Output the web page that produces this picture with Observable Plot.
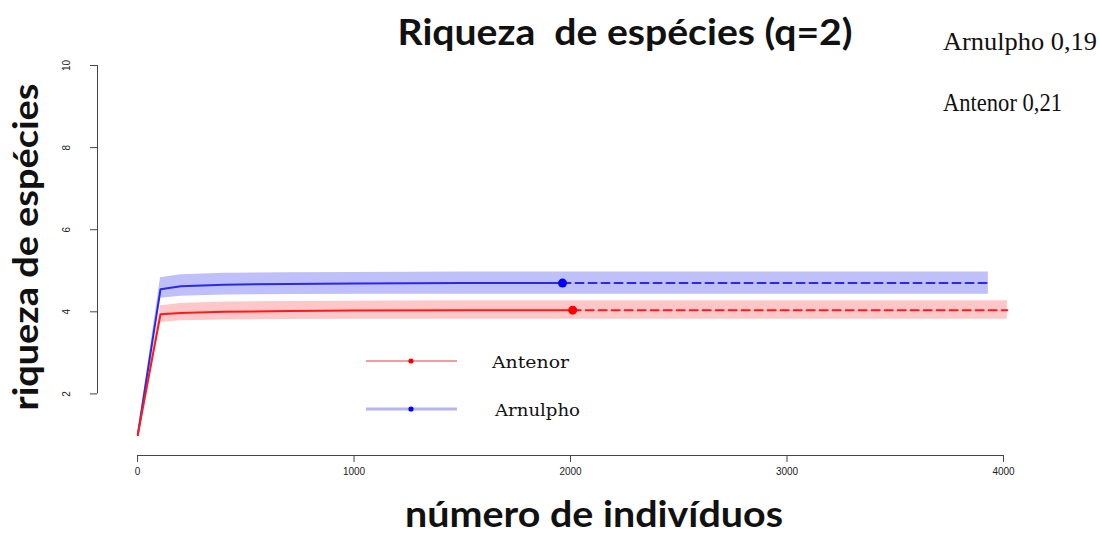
<!DOCTYPE html>
<html>
<head>
<meta charset="utf-8">
<script src="https://cdn.jsdelivr.net/npm/d3@7"></script>
<script src="https://cdn.jsdelivr.net/npm/@observablehq/plot@0.6"></script>
<style>
  html, body { margin: 0; padding: 0; background: #fff; }
  #chart { position: relative; width: 1100px; height: 534px; }
</style>
</head>
<body>
<div id="chart"></div>
<script>
// ---- Data ----
const xTicks = [0, 1000, 2000, 3000, 4000];
const yTicks = [2, 4, 6, 8, 10];

// Arnulpho (blue) – interpolated (rarefied) part
const arnInterpN  = [1, 106, 200, 400, 700, 1000, 1500, 1963];
const arnInterpQ  = [1.00, 4.55, 4.62, 4.66, 4.68, 4.69, 4.70, 4.70];
const arnInterpLo = [1.00, 4.33, 4.38, 4.41, 4.42, 4.43, 4.43, 4.43];
const arnInterpHi = [1.00, 4.83, 4.90, 4.94, 4.95, 4.96, 4.97, 4.97];
// Arnulpho – extrapolated part
const arnExtrapN  = [1963, 3930];
const arnExtrapQ  = [4.70, 4.70];
const arnExtrapLo = [4.43, 4.43];
const arnExtrapHi = [4.97, 4.97];

// Antenor (red) – interpolated part
const antInterpN  = [1, 106, 200, 400, 700, 1000, 1500, 2010];
const antInterpQ  = [1.00, 3.94, 3.97, 4.00, 4.02, 4.03, 4.04, 4.04];
const antInterpLo = [1.00, 3.74, 3.78, 3.80, 3.81, 3.82, 3.82, 3.82];
const antInterpHi = [1.00, 4.15, 4.20, 4.24, 4.25, 4.26, 4.27, 4.27];
// Antenor – extrapolated part
const antExtrapN  = [2010, 4018];
const antExtrapQ  = [4.04, 4.04];
const antExtrapLo = [3.82, 3.82];
const antExtrapHi = [4.27, 4.27];

const lineColors = {Antenor: "#ff1a1a", Arnulpho: "#2a2ae6"};
const bandColors = {Antenor: "#ffc4c4", Arnulpho: "#bfbffa"};
const sampleCoverage = [["Arnulpho", "0,19"], ["Antenor", "0,21"]];

// ---- Build rows ----
const rows = (name, part, N, Q, Lo, Hi) =>
  N.map((n, i) => ({series: name, part, n, q: Q[i], lo: Lo[i], hi: Hi[i]}));

const arnI = rows("Arnulpho", "interp", arnInterpN, arnInterpQ, arnInterpLo, arnInterpHi);
const arnE = rows("Arnulpho", "extrap", arnExtrapN, arnExtrapQ, arnExtrapLo, arnExtrapHi);
const antI = rows("Antenor", "interp", antInterpN, antInterpQ, antInterpLo, antInterpHi);
const antE = rows("Antenor", "extrap", antExtrapN, antExtrapQ, antExtrapLo, antExtrapHi);

const observed = [arnI[arnI.length - 1], antI[antI.length - 1]];

const xMin = -185, yMin = 0.5;

const plot = Plot.plot({
  width: 1100,
  height: 534,
  marginLeft: 97,
  marginRight: 97,
  marginTop: 65,
  marginBottom: 79,
  x: {domain: [xMin, 4000]},
  y: {domain: [yMin, 10]},
  style: {background: "transparent", fontFamily: "Liberation Sans, Arial, sans-serif"},
  marks: [
    // bands
    Plot.areaY([...arnI, ...arnE.slice(1)], {x: "n", y1: "lo", y2: "hi", fill: bandColors.Arnulpho, curve: "linear"}),
    Plot.areaY([...antI, ...antE.slice(1)], {x: "n", y1: "lo", y2: "hi", fill: bandColors.Antenor, curve: "linear", fillOpacity: 0.95}),
    // interpolated lines
    Plot.line(arnI, {x: "n", y: "q", stroke: lineColors.Arnulpho, strokeWidth: 2}),
    Plot.line(antI, {x: "n", y: "q", stroke: lineColors.Antenor, strokeWidth: 2}),
    // extrapolated lines
    Plot.line(arnE, {x: "n", y: "q", stroke: lineColors.Arnulpho, strokeWidth: 2, strokeDasharray: "8,5"}),
    Plot.line(antE, {x: "n", y: "q", stroke: lineColors.Antenor, strokeWidth: 2, strokeDasharray: "8,5"}),
    // observed points
    Plot.dot(observed, {x: "n", y: "q", r: 4.5, fill: d => d.series === "Arnulpho" ? "#0000ff" : "#ff0000", stroke: "none"}),
    // axes
    Plot.ruleY([yMin], {x1: 0, x2: 4000, stroke: "#444", strokeWidth: 1}),
    Plot.axisX({ticks: xTicks, tickSize: 7, tickPadding: 5, tickFormat: d3.format("d"), fontSize: 10, label: null, stroke: "#444", fill: "#222"}),
    Plot.ruleX([xMin], {y1: 2, y2: 10, stroke: "#444", strokeWidth: 1}),
    Plot.axisY({ticks: yTicks, tickSize: 7, tickPadding: 21, tickRotate: -90, textAnchor: "middle", fontSize: 10, label: null, stroke: "#444", fill: "#222"})
  ]
});

document.getElementById("chart").appendChild(plot);

// ---- Titles, annotations, legend ----
const svg = d3.select(plot);
const titleFont = "Lato, 'Open Sans', sans-serif";

svg.append("text")
  .attr("x", 625).attr("y", 45)
  .attr("text-anchor", "middle")
  .attr("font-family", titleFont).attr("font-weight", "bold").attr("font-size", 37)
  .attr("textLength", 455).attr("lengthAdjust", "spacingAndGlyphs")
  .attr("fill", "#111")
  .text("Riqueza  de espécies (q=2)");

svg.append("text")
  .attr("x", 594).attr("y", 527)
  .attr("text-anchor", "middle")
  .attr("font-family", titleFont).attr("font-weight", "bold").attr("font-size", 36)
  .attr("textLength", 378).attr("lengthAdjust", "spacingAndGlyphs")
  .attr("fill", "#111")
  .text("número de indivíduos");

svg.append("text")
  .attr("transform", "translate(38,247) rotate(-90)")
  .attr("text-anchor", "middle")
  .attr("font-family", titleFont).attr("font-weight", "bold").attr("font-size", 35)
  .attr("textLength", 327).attr("lengthAdjust", "spacingAndGlyphs")
  .attr("fill", "#111")
  .text("riqueza de espécies");

// sample coverage annotations (top right)
const annotWidths = [154, 119];
sampleCoverage.forEach(([name, val], i) => {
  svg.append("text")
    .attr("x", 943).attr("y", 50 + i * 61)
    .attr("text-anchor", "start")
    .attr("font-family", "'Liberation Serif', 'Times New Roman', serif").attr("font-size", 25)
    .attr("textLength", annotWidths[i]).attr("lengthAdjust", "spacingAndGlyphs")
    .attr("fill", "#111")
    .text(`${name} ${val}`);
});

// legend
const legendItems = [
  {name: "Antenor", line: "#f07b7b", lw: 1.5, dot: "#ff0000", y: 361, tx: 492, w: 77},
  {name: "Arnulpho", line: "#b3b3f7", lw: 3, dot: "#0000ff", y: 409, tx: 495, w: 85}
];
legendItems.forEach(it => {
  svg.append("line").attr("x1", 366).attr("x2", 457).attr("y1", it.y).attr("y2", it.y)
    .attr("stroke", it.line).attr("stroke-width", it.lw);
  svg.append("circle").attr("cx", 411).attr("cy", it.y).attr("r", 2.6).attr("fill", it.dot);
  svg.append("text").attr("x", it.tx).attr("y", it.y + 7)
    .attr("text-anchor", "start")
    .attr("font-family", "'DejaVu Serif', serif").attr("font-size", 17)
    .attr("textLength", it.w).attr("lengthAdjust", "spacingAndGlyphs")
    .attr("fill", "#111")
    .text(it.name);
});
</script>
</body>
</html>
